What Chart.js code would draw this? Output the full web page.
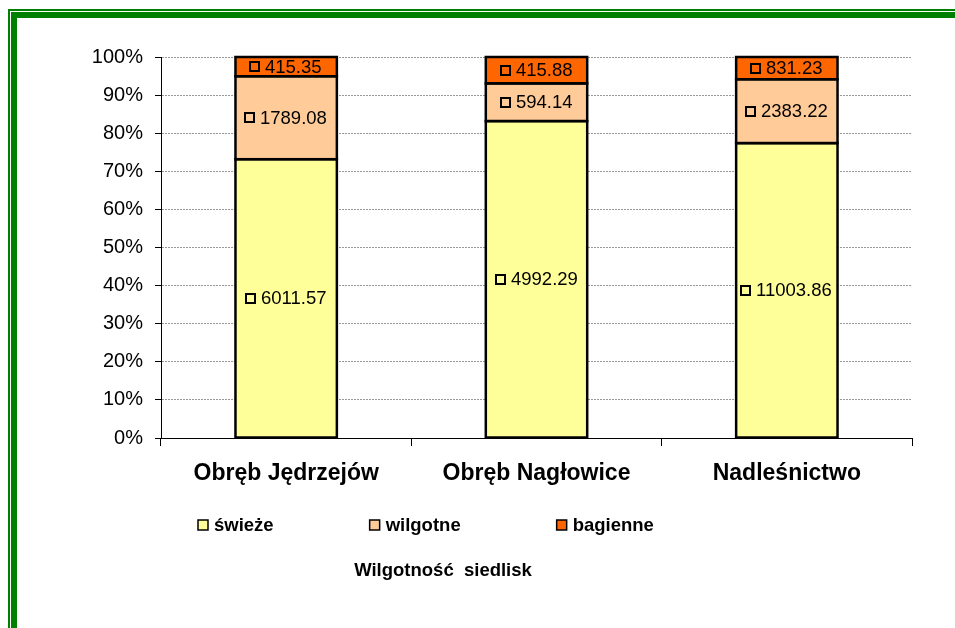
<!DOCTYPE html>
<html>
<head>
<meta charset="utf-8">
<script src="https://cdn.jsdelivr.net/npm/chart.js@4"></script>
<style>
  html, body { margin: 0; padding: 0; background: #fff; }
  #wrap { position: relative; width: 955px; height: 628px; overflow: hidden; }
  canvas { position: absolute; left: 0; top: 0; }
  .frame { position: absolute; pointer-events: none; border-color: #008000; border-style: solid; border-right: none; border-bottom: none; right: -20px; bottom: -20px; }
  #f1 { left: 8px; top: 9px; border-left-width: 2px; border-top-width: 2px; }
  #f2 { left: 11px; top: 12px; border-left-width: 6px; border-top-width: 6px; }
</style>
</head>
<body>
<div id="wrap">
  <canvas id="chart" width="955" height="628"></canvas>
  <div class="frame" id="f1"></div>
  <div class="frame" id="f2"></div>
</div>
<script>
// data
const categories = ['Obręb Jędrzejów', 'Obręb Nagłowice', 'Nadleśnictwo'];
const seriesNames = ['świeże', 'wilgotne', 'bagienne'];
const swieze = [6011.57, 4992.29, 11003.86];
const wilgotne = [1789.08, 594.14, 2383.22];
const bagienne = [415.35, 415.88, 831.23];
const seriesColors = ['#FFFF99', '#FFCC99', '#FF6600'];
const chartTitle = 'Wilgotność  siedlisk';

const raw = [swieze, wilgotne, bagienne];
const totals = categories.map((c, j) => raw.reduce((s, arr) => s + arr[j], 0));

const FONT = '"Liberation Sans", Arial, sans-serif';

// black outlines centred on the segment edges (Excel style) + value labels
const dataLabels = {
  id: 'dataLabels',
  afterDatasetsDraw(chart) {
    const ctx = chart.ctx;
    ctx.save();
    ctx.strokeStyle = '#000';
    ctx.lineWidth = 2.5;
    chart.data.datasets.forEach((ds, i) => {
      chart.getDatasetMeta(i).data.forEach(bar => {
        const l = bar.x - bar.width / 2;
        ctx.strokeRect(l, bar.y, bar.width, bar.base - bar.y);
      });
    });

    ctx.font = '18.5px ' + FONT;
    ctx.textBaseline = 'middle';
    ctx.textAlign = 'left';
    chart.data.datasets.forEach((ds, i) => {
      chart.getDatasetMeta(i).data.forEach((bar, j) => {
        const text = ds.raw[j].toFixed(2);
        const cy = (bar.y + bar.base) / 2;
        const ms = 9, gap = 6;
        const tw = ctx.measureText(text).width;
        const x0 = Math.round(bar.x - (ms + gap + tw) / 2);
        const my = Math.round(cy - ms / 2);
        ctx.fillStyle = ds.backgroundColor;
        ctx.fillRect(x0, my, ms, ms);
        ctx.lineWidth = 2;
        ctx.strokeStyle = '#000';
        ctx.strokeRect(x0, my, ms, ms);
        ctx.fillStyle = '#000';
        ctx.fillText(text, x0 + ms + gap, cy + 1);
      });
    });
    ctx.restore();
  }
};

// legend and title below the axis, as in the original
const bottomLegend = {
  id: 'bottomLegend',
  afterDraw(chart) {
    const ctx = chart.ctx;
    ctx.save();
    ctx.font = 'bold 18.5px ' + FONT;
    ctx.textBaseline = 'middle';
    const box = 10, gap = 6, pad = 96;
    const widths = seriesNames.map(n => box + gap + ctx.measureText(n).width);
    const total = widths.reduce((a, b) => a + b, 0) + pad * (widths.length - 1);
    let x = Math.round(426 - total / 2);
    const y = 525;
    seriesNames.forEach((n, i) => {
      ctx.fillStyle = seriesColors[i];
      ctx.fillRect(x, y - box / 2, box, box);
      ctx.lineWidth = 1.5;
      ctx.strokeStyle = '#000';
      ctx.strokeRect(x, y - box / 2, box, box);
      ctx.fillStyle = '#000';
      ctx.textAlign = 'left';
      ctx.fillText(n, x + box + gap, y + 1);
      x += widths[i] + pad;
    });
    ctx.textAlign = 'center';
    ctx.fillText(chartTitle, 443, 571);
    ctx.restore();
  }
};

new Chart(document.getElementById('chart'), {
  type: 'bar',
  data: {
    labels: categories,
    datasets: seriesNames.map((name, i) => ({
      label: name,
      raw: raw[i],
      data: raw[i].map((v, j) => v / totals[j] * 100),
      backgroundColor: seriesColors[i],
      borderWidth: 0,
      categoryPercentage: 1,
      barPercentage: 0.405
    }))
  },
  options: {
    responsive: false,
    animation: false,
    devicePixelRatio: 1,
    layout: { padding: { left: 0, top: 57, right: 43, bottom: 130 } },
    plugins: {
      legend: { display: false },
      title: { display: false },
      tooltip: { enabled: false }
    },
    scales: {
      x: {
        stacked: true,
        afterFit: s => { s.height = 60; },
        grid: {
          offset: true,
          drawOnChartArea: false,
          drawTicks: true,
          tickLength: 8,
          tickColor: '#000',
          tickWidth: 1
        },
        border: { color: '#000', width: 1 },
        ticks: {
          color: '#000',
          padding: 14,
          font: { family: FONT, size: 23, weight: 'bold' }
        }
      },
      y: {
        stacked: true,
        min: 0,
        max: 100,
        afterFit: s => { s.width = 161; },
        grid: {
          color: '#999',
          lineWidth: 1,
          drawTicks: true,
          tickLength: 6,
          tickColor: '#000',
          tickWidth: 1,
          tickBorderDash: []
        },
        border: { color: '#000', width: 1, dash: [2, 1] },
        ticks: {
          stepSize: 10,
          color: '#000',
          padding: 12,
          font: { family: FONT, size: 20 },
          callback: v => v + '%'
        }
      }
    }
  },
  plugins: [dataLabels, bottomLegend]
});
</script>
</body>
</html>
